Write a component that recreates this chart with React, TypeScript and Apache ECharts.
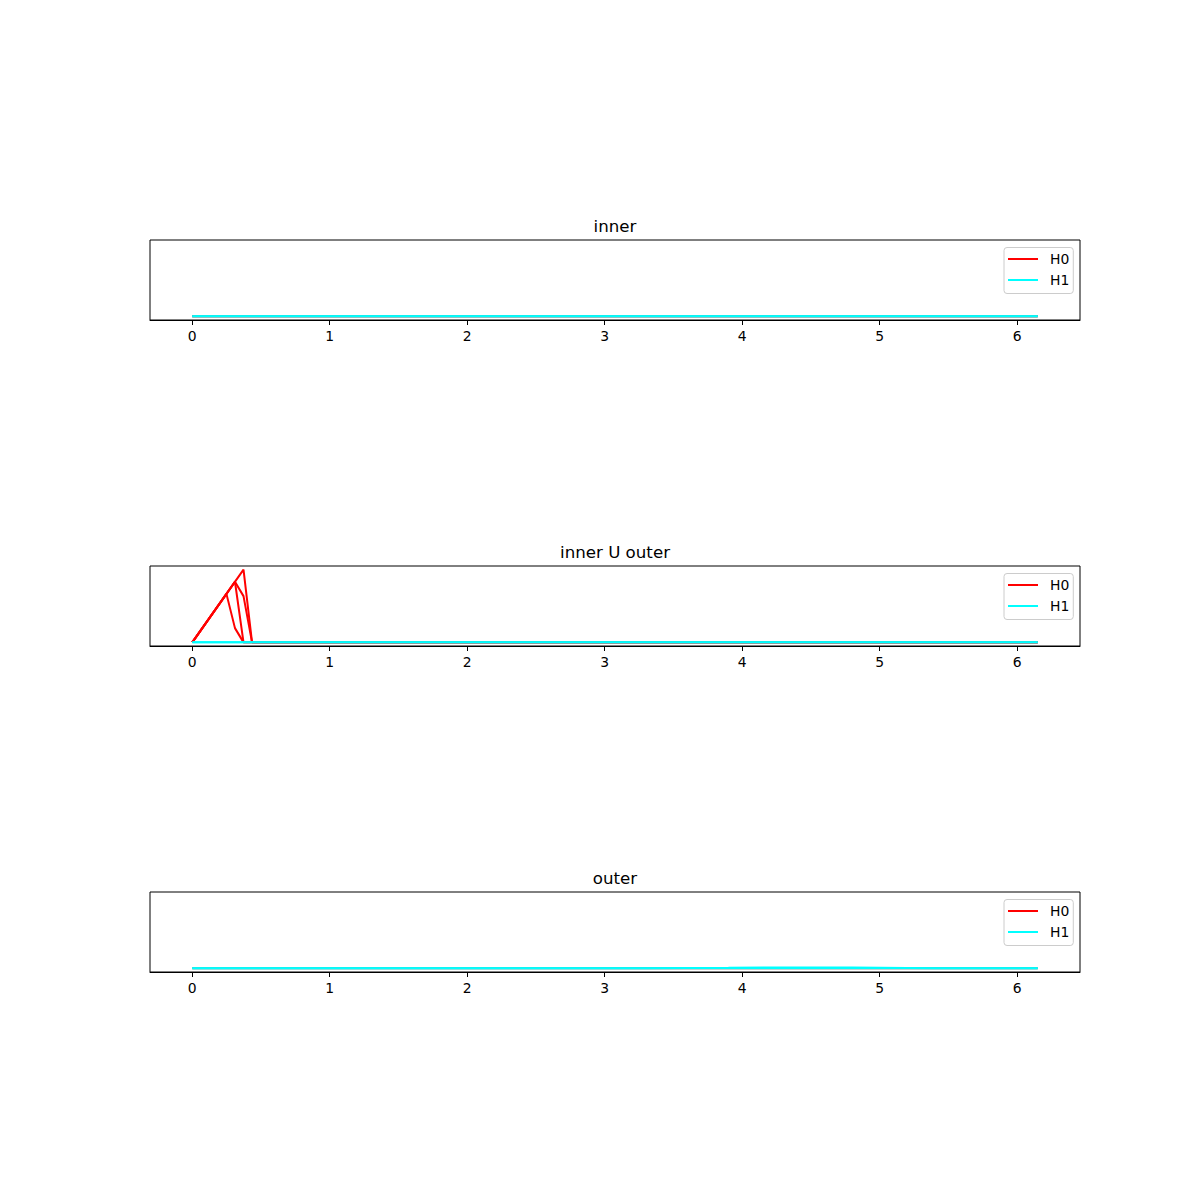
import React, { useEffect, useRef } from "react";
import * as echarts from "echarts";

// Panel titles
const panelTitles = ["inner", "inner U outer", "outer"];
const legendNames = ["H0", "H1"];
const xTicks = [0, 1, 2, 3, 4, 5, 6];

// Persistence landscapes, [x, y] pairs
const innerH0: number[][][] = [
  [[0, 0], [6.15, 0]],
  [[0, 0], [6.15, 0]],
];
const innerH1: number[][][] = [
  [[0, 0], [6.15, 0]],
  [[0, 0], [6.15, 0]],
];

const middleH0: number[][][] = [
  [[0, 0], [0.3727, 0.3727], [0.4348, 0], [6.15, 0]],
  [[0, 0], [0.3106, 0.3106], [0.3727, 0.237], [0.4348, 0], [6.15, 0]],
  [[0, 0], [0.3106, 0.3106], [0.3727, 0], [6.15, 0]],
  [[0, 0], [0.2485, 0.2485], [0.3106, 0.073], [0.3727, 0], [6.15, 0]],
];
const middleH1: number[][][] = [
  [[0, 0], [6.15, 0]],
  [[0, 0], [6.15, 0]],
];

const outerH0: number[][][] = [
  [[0, 0], [6.15, 0]],
];
const outerH1: number[][][] = [
  [[0, 0], [3.3, 0], [3.9, 0.003], [4.2, 0.005], [4.8, 0.004], [5.4, 0.001], [6.15, 0]],
  [[0, 0], [6.15, 0]],
];

const panels = [
  { h0: innerH0, h1: innerH1 },
  { h0: middleH0, h1: middleH1 },
  { h0: outerH0, h1: outerH1 },
];

const FONT = "DejaVu Sans";
const RED = "#ff0000";
const CYAN = "#00ffff";

export default function App() {
  const ref = useRef<HTMLDivElement>(null);

  useEffect(() => {
    if (!ref.current) return;
    const chart = echarts.init(ref.current, undefined, { renderer: "svg" });

    const tops = [240, 566, 892];
    const grids = tops.map((t) => ({
      left: 150,
      top: t,
      width: 930,
      height: 80,
      show: true,
      borderColor: "#000",
      borderWidth: 1,
      backgroundColor: "transparent",
    }));

    const xAxes = tops.map((_, i) => ({
      type: "value",
      gridIndex: i,
      min: -0.3075,
      max: 6.4575,
      axisLine: { show: true, onZero: false, lineStyle: { color: "#000", width: 1 } },
      axisTick: {
        show: true,
        length: 5,
        customValues: xTicks,
        lineStyle: { color: "#000", width: 1 },
      },
      axisLabel: {
        show: true,
        customValues: xTicks,
        color: "#000",
        fontSize: 13.9,
        fontFamily: FONT,
        margin: 9,
      },
      splitLine: { show: false },
    }));

    const yAxes = tops.map((_, i) => ({
      type: "value",
      gridIndex: i,
      min: -0.01865,
      max: 0.39135,
      show: false,
      splitLine: { show: false },
    }));

    const series: any[] = [];
    panels.forEach((p, i) => {
      p.h0.forEach((d) =>
        series.push({
          type: "line",
          name: "H0",
          xAxisIndex: i,
          yAxisIndex: i,
          data: d,
          showSymbol: false,
          symbol: "none",
          lineStyle: { color: RED, width: 2 },
          itemStyle: { color: RED },
          z: 2,
        })
      );
      p.h1.forEach((d) =>
        series.push({
          type: "line",
          name: "H1",
          xAxisIndex: i,
          yAxisIndex: i,
          data: d,
          showSymbol: false,
          symbol: "none",
          lineStyle: { color: CYAN, width: 2 },
          itemStyle: { color: CYAN },
          z: 3,
        })
      );
    });

    const legends = tops.map((t) => ({
      data: legendNames,
      orient: "vertical",
      left: 1004,
      top: t + 7.5,
      icon: "rect",
      itemWidth: 30,
      itemHeight: 2,
      itemGap: 4,
      padding: [3, 4, 5, 4],
      backgroundColor: "rgba(255,255,255,0.8)",
      borderColor: "#cccccc",
      borderWidth: 1,
      borderRadius: 3,
      selectedMode: false,
      textStyle: {
        color: "#000",
        fontSize: 13.9,
        fontFamily: FONT,
        lineHeight: 17,
        padding: [0, 0, 0, 7],
      },
    }));

    const graphics = tops.map((t, i) => ({
      type: "text",
      x: 615,
      y: t - 14,
      style: {
        text: panelTitles[i],
        fill: "#000",
        font: `16.67px "${FONT}"`,
        textAlign: "center",
        textVerticalAlign: "middle",
      },
    }));

    chart.setOption({
      animation: false,
      backgroundColor: "#fff",
      textStyle: { fontFamily: FONT },
      grid: grids,
      xAxis: xAxes,
      yAxis: yAxes,
      legend: legends,
      graphic: graphics,
      series,
    });

    return () => chart.dispose();
  }, []);

  return (
    <div
      ref={ref}
      style={{ position: "absolute", left: 0, top: 0, width: 1200, height: 1200 }}
    />
  );
}
